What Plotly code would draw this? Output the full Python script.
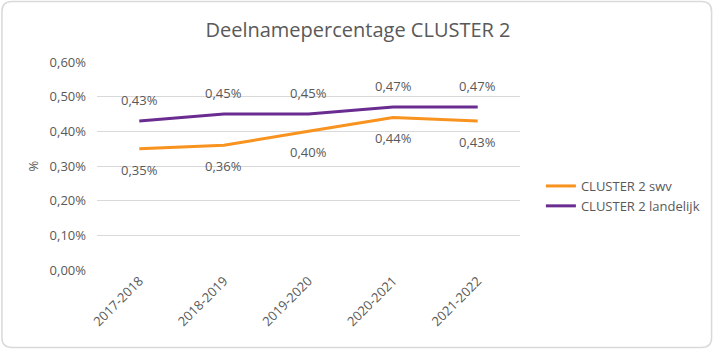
import plotly.graph_objects as go

categories = ["2017-2018", "2018-2019", "2019-2020", "2020-2021", "2021-2022"]
swv = [0.35, 0.36, 0.40, 0.44, 0.43]
landelijk = [0.43, 0.45, 0.45, 0.47, 0.47]
y_ticks = [0.0, 0.1, 0.2, 0.3, 0.4, 0.5, 0.6]
y_ticklabels = ["0,00%", "0,10%", "0,20%", "0,30%", "0,40%", "0,50%", "0,60%"]

ORANGE = "#F7931E"
PURPLE = "#6A2C91"
GREY = "#595959"
FONT = "Open Sans"

W, H = 717, 350
L, R, T, B = 97, 195, 62, 80
pw, ph = W - L - R, H - T - B

def px(x):
    return (x - L) / pw

def py(y):
    return (H - B - y) / ph

fig = go.Figure()
fig.add_trace(go.Scatter(x=categories, y=swv, mode="lines", name="CLUSTER 2 swv",
                         line=dict(color=ORANGE, width=3)))
fig.add_trace(go.Scatter(x=categories, y=landelijk, mode="lines", name="CLUSTER 2 landelijk",
                         line=dict(color=PURPLE, width=3)))

ann = []
def fmt(v):
    return f"{v:.2f}".replace(".", ",") + "%"
for c, v in zip(categories, swv):
    ann.append(dict(x=c, y=v, text=fmt(v), showarrow=False, yshift=-21,
                    font=dict(family=FONT, size=13, color=GREY)))
for c, v in zip(categories, landelijk):
    ann.append(dict(x=c, y=v, text=fmt(v), showarrow=False, yshift=21,
                    font=dict(family=FONT, size=13, color=GREY)))

# rounded border around the chart area
x0, x1 = px(1.5), px(714.5)
y0, y1 = py(347.5), py(1.5)
rx, ry = 10 / pw, 10 / ph
path = (f"M {x0+rx},{y1} L {x1-rx},{y1} Q {x1},{y1} {x1},{y1-ry} "
        f"L {x1},{y0+ry} Q {x1},{y0} {x1-rx},{y0} L {x0+rx},{y0} "
        f"Q {x0},{y0} {x0},{y0+ry} L {x0},{y1-ry} Q {x0},{y1} {x0+rx},{y1} Z")

fig.update_layout(
    width=W, height=H,
    margin=dict(l=L, r=R, t=T, b=B),
    paper_bgcolor="white", plot_bgcolor="white",
    title=dict(text="Deelnamepercentage CLUSTER 2", x=358 / W, xanchor="center",
               y=1 - 30 / H, yanchor="middle",
               font=dict(family=FONT, size=20, color=GREY)),
    showlegend=True,
    legend=dict(x=px(543), y=py(196), xanchor="left", yanchor="middle",
                font=dict(family=FONT, size=13, color=GREY), tracegroupgap=6,
                bgcolor="rgba(0,0,0,0)"),
    annotations=ann,
    shapes=[dict(type="path", path=path, xref="paper", yref="paper",
                 line=dict(color="#D9D9D9", width=1.5), layer="below")],
)
fig.update_xaxes(tickangle=-45, showgrid=False, showline=False, ticks="",
                 range=[-0.5, len(categories) - 0.5],
                 tickfont=dict(family=FONT, size=13, color=GREY))
fig.update_yaxes(range=[0, 0.6], tickvals=y_ticks, ticktext=y_ticklabels,
                 showgrid=True, gridcolor="#D9D9D9", gridwidth=1, zeroline=False,
                 ticks="", ticklabelstandoff=10,
                 tickfont=dict(family=FONT, size=13, color=GREY),
                 title=dict(text="%", font=dict(family=FONT, size=13, color=GREY), standoff=8))

fig.write_html("out.html")
